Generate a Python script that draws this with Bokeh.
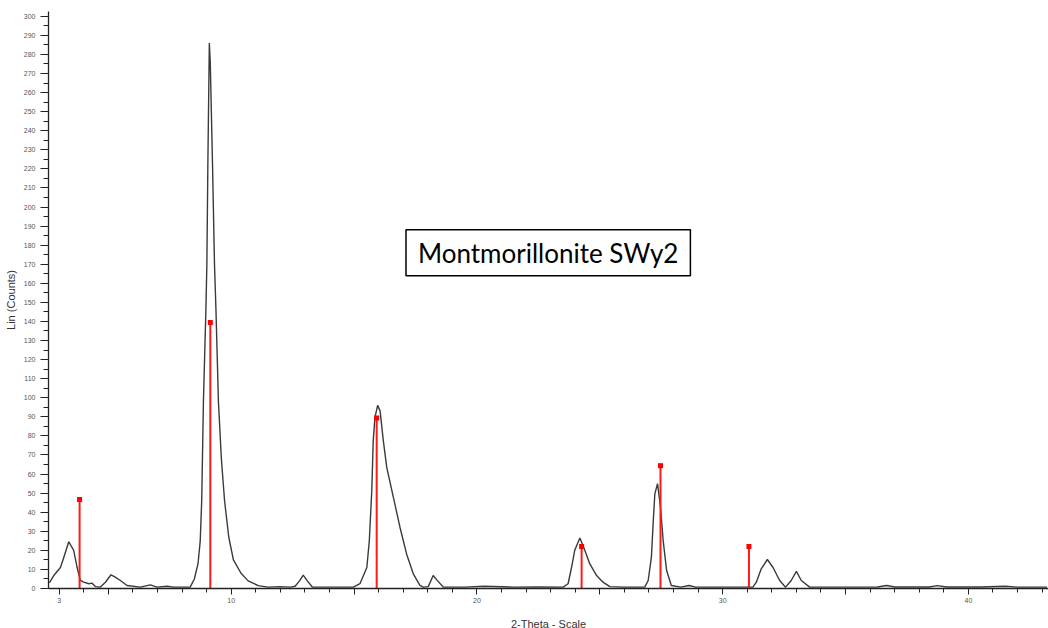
from bokeh.plotting import figure
from bokeh.models import FixedTicker, Range1d, Label
from bokeh.embed import file_html
from bokeh.resources import INLINE

# ---- data ----
two_theta = [2.60, 2.78, 3.05, 3.18, 3.39, 3.59, 3.73, 3.86, 4.00, 4.20, 4.34, 4.47, 4.67, 4.88,
             5.11, 5.28, 5.49, 5.76, 6.30, 6.71, 6.98, 7.39, 7.64, 8.33, 8.50, 8.65, 8.74, 8.80,
             8.87, 8.97, 9.01, 9.05, 9.11, 9.15, 9.24, 9.32, 9.38, 9.48, 9.60, 9.73, 9.90, 10.09,
             10.40, 10.69, 11.1, 11.5, 12.0, 12.4, 12.6, 12.78, 12.93, 13.1, 13.3, 13.8, 14.5,
             14.97, 15.24, 15.52, 15.62, 15.72, 15.78, 15.85, 15.96, 16.06, 16.19, 16.33, 16.60,
             16.87, 17.14, 17.41, 17.68, 17.82, 18.02, 18.22, 18.4, 18.63, 19.5, 20.3, 21.5, 22.5,
             23.51, 23.71, 23.85, 23.98, 24.19, 24.39, 24.59, 24.87, 25.13, 25.41, 26.0, 26.83,
             26.97, 27.10, 27.17, 27.24, 27.35, 27.47, 27.58, 27.72, 27.91, 28.3, 28.63, 28.9,
             30.0, 31.23, 31.37, 31.57, 31.82, 32.05, 32.32, 32.56, 32.79, 33.0, 33.2, 33.54,
             35.0, 36.3, 36.67, 37.0, 38.4, 38.74, 39.1, 40.5, 41.5, 42.0, 43.2]
counts = [3, 6.8, 11, 16, 24.5, 20, 11, 4.2, 3.3, 2.5, 2.8, 1, 0.7, 3.3,
          7.2, 6, 4.2, 1.6, 0.7, 1.9, 0.7, 1.2, 0.7, 0.7, 5, 13, 25, 46,
          98, 146, 170, 222, 286, 275, 222, 170, 146, 98, 68, 46, 27, 15,
          8, 4, 1.5, 0.7, 1, 0.7, 1.2, 4, 7, 4, 0.8, 0.7, 0.7,
          0.7, 2.5, 11, 25, 51, 77.5, 89.7, 96, 93, 77.5, 63.5, 47.8,
          32, 18, 7.7, 1.6, 0.7, 1, 6.8, 4, 0.8, 0.7, 1.2, 0.7, 0.8,
          0.7, 2.5, 11, 20, 26.5, 20, 13, 6.8, 3.3, 1, 0.7, 0.7,
          4.2, 16.4, 34, 49.6, 55, 42.6, 25, 9.4, 1.6, 0.7, 1.6, 0.7,
          0.7, 0.7, 3.3, 10.3, 15.2, 11, 4.2, 0.7, 4.2, 9, 4.2, 0.7,
          0.7, 0.8, 1.6, 0.8, 0.8, 1.5, 0.8, 0.8, 1.2, 0.7, 0.7]

stick_theta = [3.83, 9.15, 15.92, 24.26, 27.47, 31.07]
stick_counts = [46.6, 139.4, 89.4, 22, 64.4, 22]

x_major = [3, 5, 10, 15, 20, 25, 30, 35, 40]
x_minor = list(range(3, 44))
x_labels = {3: "3", 10: "10", 20: "20", 30: "30", 40: "40"}
y_major = list(range(0, 301, 10))
y_minor = list(range(0, 301, 5))

title_text = "Montmorillonite SWy2"
x_title = "2-Theta - Scale"
y_title = "Lin (Counts)"

p = figure(width=1048, height=628, output_backend="svg", toolbar_location=None,
           x_range=Range1d(2.565, 43.26), y_range=Range1d(0, 302.5),
           min_border_left=48, min_border_right=0, min_border_top=11, min_border_bottom=40)
p.frame_width = 1000
p.frame_height = 577
p.outline_line_color = None
p.xgrid.visible = False
p.ygrid.visible = False
p.background_fill_color = "white"

p.line(two_theta, counts, line_color="#3a3a3a", line_width=1.4)
p.segment(x0=stick_theta, y0=[0] * len(stick_theta), x1=stick_theta, y1=stick_counts,
          line_color="#ff1a1a", line_width=2)
p.scatter(stick_theta, stick_counts, marker="square", size=5, fill_color="#ff0000",
          line_color=None)

for ax in (p.xaxis[0], p.yaxis[0]):
    ax.axis_line_color = "#222222"
    ax.axis_line_width = 1.3
    ax.major_tick_line_color = "#222222"
    ax.minor_tick_line_color = "#222222"
    ax.major_label_text_font = "Liberation Sans"
    ax.major_label_text_font_size = "7px"
    ax.major_label_text_color = "#555555"
    ax.axis_label_text_font = "Liberation Sans"
    ax.axis_label_text_font_size = "11px"
    ax.axis_label_text_font_style = "normal"
    ax.axis_label_text_color = "#333333"

xa = p.xaxis[0]
xa.ticker = FixedTicker(ticks=x_major, minor_ticks=x_minor)
xa.major_label_overrides = {t: x_labels.get(t, "") for t in x_major}
xa.major_tick_in = 0
xa.major_tick_out = 6
xa.minor_tick_in = 0
xa.minor_tick_out = 4
xa.major_label_standoff = 3
xa.axis_label = x_title
xa.axis_label_standoff = 12

ya = p.yaxis[0]
ya.ticker = FixedTicker(ticks=y_major, minor_ticks=y_minor)
ya.major_tick_in = 0
ya.major_tick_out = 8
ya.minor_tick_in = 0
ya.minor_tick_out = 5
ya.major_label_standoff = 5
ya.axis_label = y_title
ya.axis_label_standoff = 4

lab = Label(x=22.9, y=176, text=title_text, text_align="center", text_baseline="middle",
            text_font="Lato", text_font_size="26px", text_color="#000000",
            border_line_color="#000000", border_line_width=1.5,
            background_fill_color="white",
            padding=dict(left=12, right=12, top=7, bottom=7))
p.add_layout(lab)

open("out.html", "w").write(file_html(p, INLINE))
